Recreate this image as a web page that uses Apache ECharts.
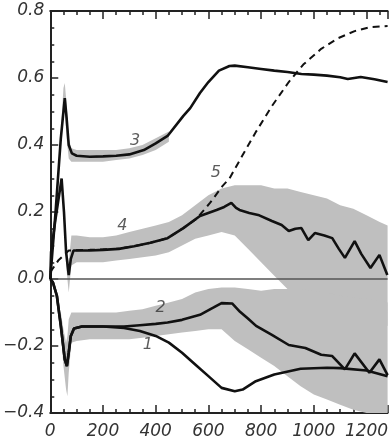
<!DOCTYPE html>
<html>
<head>
<meta charset="utf-8">
<script src="https://cdn.jsdelivr.net/npm/echarts@6/dist/echarts.min.js"></script>
<style>html,body{margin:0;padding:0;background:#fff}#c{width:391px;height:440px}</style>
</head>
<body>
<div id="c"></div>
<script>
// ---- Curve data (x, value) ----
const c1x = [0,10,25,40,55,63,70,78,90,120,200,280,340,400,450,500,550,600,650,700,730,780,850,950,1050,1100,1200,1280];
const c1y = [0,-0.01,-0.05,-0.14,-0.24,-0.26,-0.22,-0.17,-0.148,-0.142,-0.142,-0.146,-0.155,-0.17,-0.19,-0.22,-0.255,-0.29,-0.325,-0.335,-0.33,-0.305,-0.285,-0.268,-0.265,-0.266,-0.273,-0.29];

const c2x = [0,10,25,40,55,63,70,78,90,120,200,280,340,400,445,500,568,620,650,690,720,750,781,841,905,968,1028,1070,1118,1155,1211,1249,1280];
const c2y = [0,-0.01,-0.05,-0.14,-0.24,-0.26,-0.22,-0.17,-0.148,-0.142,-0.142,-0.142,-0.138,-0.134,-0.13,-0.122,-0.107,-0.085,-0.072,-0.073,-0.098,-0.118,-0.14,-0.167,-0.197,-0.206,-0.226,-0.23,-0.27,-0.222,-0.28,-0.24,-0.287];

const c3x = [0,20,40,55,62,70,82,100,150,200,250,300,355,400,445,505,531,568,600,640,680,700,750,800,850,900,953,1000,1050,1100,1129,1178,1230,1280];
const c3y = [0,0.2,0.42,0.54,0.48,0.4,0.375,0.368,0.365,0.366,0.368,0.372,0.385,0.405,0.427,0.487,0.51,0.555,0.588,0.622,0.636,0.637,0.632,0.627,0.622,0.618,0.612,0.61,0.607,0.602,0.597,0.603,0.596,0.588];

const c4x = [0,3,20,43,52,60,70,78,88,150,200,260,318,380,445,505,568,631,660,687,705,718,755,793,841,878,905,930,953,979,1004,1040,1070,1095,1118,1155,1180,1215,1249,1279];
const c4y = [0,0.08,0.18,0.30,0.2,0.08,0.012,0.06,0.085,0.085,0.087,0.09,0.098,0.108,0.122,0.152,0.188,0.206,0.215,0.227,0.212,0.206,0.197,0.19,0.173,0.161,0.143,0.15,0.152,0.116,0.137,0.13,0.122,0.09,0.063,0.113,0.075,0.033,0.072,0.012];

const c5x = [0,30,70,150,250,318,380,445,505,555,606,654,680,730,781,840,905,960,1028,1090,1155,1215,1280];
const c5y = [0.02,0.055,0.085,0.087,0.09,0.098,0.108,0.122,0.152,0.18,0.227,0.278,0.30,0.37,0.44,0.515,0.588,0.64,0.687,0.718,0.74,0.752,0.755];

// ---- Gray noise envelopes (upper / lower) ----
const n3x  = [0,40,50,55,62,70,80,100,150,200,250,300,350,400,450];
const n3hi = [0,0.44,0.57,0.585,0.52,0.42,0.39,0.385,0.385,0.385,0.385,0.39,0.4,0.42,0.44];
const n3lo = [0,0.4,0.5,0.5,0.42,0.36,0.35,0.35,0.35,0.35,0.355,0.36,0.37,0.385,0.41];

const n4x  = [60,70,80,100,150,200,250,300,350,400,450,500,550,600,650,700,750,800,850,900,950,1000,1050,1100,1150,1200,1250,1280];
const n4hi = [0.1,0.05,0.13,0.13,0.125,0.125,0.13,0.14,0.15,0.16,0.17,0.19,0.22,0.25,0.27,0.28,0.28,0.28,0.27,0.27,0.26,0.25,0.24,0.22,0.21,0.19,0.17,0.16];
const n4lo = [0.04,-0.04,0.04,0.05,0.05,0.05,0.055,0.06,0.065,0.07,0.08,0.1,0.12,0.13,0.14,0.13,0.09,0.05,0.01,-0.03,-0.05,-0.07,-0.08,-0.09,-0.1,-0.12,-0.13,-0.14];

const n2x  = [40,50,60,65,70,80,100,150,200,250,300,350,400,450,500,550,600,650,700,750,800,850,900,950,1000,1050,1100,1150,1200,1250,1280];
const n2hi = [-0.1,-0.15,-0.19,-0.17,-0.12,-0.1,-0.1,-0.1,-0.1,-0.1,-0.095,-0.09,-0.08,-0.07,-0.06,-0.04,-0.03,-0.025,-0.025,-0.03,-0.035,-0.03,-0.03,-0.03,-0.035,-0.04,-0.05,-0.055,-0.06,-0.065,-0.07];
const n2lo = [-0.16,-0.26,-0.33,-0.35,-0.28,-0.19,-0.185,-0.18,-0.18,-0.18,-0.18,-0.175,-0.17,-0.165,-0.16,-0.155,-0.15,-0.15,-0.185,-0.21,-0.235,-0.26,-0.29,-0.32,-0.345,-0.36,-0.375,-0.39,-0.4,-0.4,-0.4];

// ---- Curve number labels ----
const curveLabels = [
  {name:'1', x:370, y:-0.197},
  {name:'2', x:419, y:-0.087},
  {name:'3', x:322, y:0.412},
  {name:'4', x:273, y:0.158},
  {name:'5', x:628, y:0.316}
];

const xMin = 0, xMax = 1280, xStep = 200;
const yMin = -0.4, yMax = 0.8, yStep = 0.2;

const pairs = (xs, ys) => xs.map((x, i) => [x, ys[i]]);
const FONT = 'DejaVu Sans';
const AX = '#222';
const NOISE = '#bfbfbf';

function band(xs, hi, lo) {
  return {
    type: 'custom', silent: true, z: 1,
    data: [[xs[0], hi[0]]],
    renderItem: function (params, api) {
      const pts = [];
      for (let i = 0; i < xs.length; i++) pts.push(api.coord([xs[i], hi[i]]));
      for (let i = xs.length - 1; i >= 0; i--) pts.push(api.coord([xs[i], lo[i]]));
      return { type: 'polygon', shape: { points: pts }, style: { fill: NOISE } };
    }
  };
}

function curve(xs, ys, dashed) {
  return {
    type: 'line', data: pairs(xs, ys), showSymbol: false, symbol: 'none',
    z: 3, silent: true,
    lineStyle: { color: '#111', width: dashed ? 2 : 2.6, type: dashed ? [7, 5] : 'solid' }
  };
}

function buildOption() {
  const tickStyle = { show: true, inside: true, length: 8, lineStyle: { color: AX, width: 1.5 } };
  const minorStyle = { show: true, splitNumber: 4, length: 4, lineStyle: { color: AX, width: 1.5 } };
  const lab = { fontFamily: FONT, fontStyle: 'italic', fontSize: 17, color: '#333' };
  const c1 = curve(c1x, c1y, false);
  c1.markLine = { silent: true, symbol: 'none', z: 2, label: { show: false },
    lineStyle: { color: '#555', width: 1.5, type: 'solid' }, data: [{ yAxis: 0 }] };
  return {
    animation: false, backgroundColor: '#fff',
    grid: { left: 48, right: 0, top: 11, bottom: 25, containLabel: false, show: false },
    xAxis: [
      { type: 'value', min: xMin, max: xMax, interval: xStep, position: 'bottom', show: true, splitLine: { show: false },
        axisLine: { show: true, onZero: false, lineStyle: { color: AX, width: 2 } }, axisTick: tickStyle, minorTick: minorStyle,
        axisLabel: Object.assign({ show: true, margin: 10, showMaxLabel: false, formatter: v => String(Math.round(v)) }, lab) },
      { type: 'value', min: xMin, max: xMax, interval: xStep, position: 'top', show: true, splitLine: { show: false },
        axisLine: { show: true, onZero: false, lineStyle: { color: AX, width: 2 } }, axisTick: tickStyle, minorTick: minorStyle,
        axisLabel: { show: false } }
    ],
    yAxis: { type: 'value', min: yMin, max: yMax, interval: yStep, show: true, splitLine: { show: false },
      axisLine: { show: true, onZero: false, lineStyle: { color: AX, width: 2 } }, axisTick: tickStyle, minorTick: minorStyle,
      axisLabel: Object.assign({ margin: 6, formatter: v => (v < 0 ? '\u2212' : '') + Math.abs(v).toFixed(1) }, lab) },
    series: [
      band(n3x, n3hi, n3lo),
      band(n4x, n4hi, n4lo),
      band(n2x, n2hi, n2lo),
      curve(c5x, c5y, true),
      c1,
      curve(c2x, c2y, false),
      curve(c3x, c3y, false),
      curve(c4x, c4y, false),
      { type: 'scatter', symbolSize: 0, silent: true, z: 4, xAxisIndex: 1,
        data: curveLabels.map(l => ({ name: l.name, value: [l.x, l.y] })),
        label: { show: true, position: 'inside', formatter: p => p.name, fontFamily: FONT, fontStyle: 'italic', fontSize: 16, color: '#333' } }
    ]
  };
}

const chart = echarts.init(document.getElementById('c'), null, { renderer: 'canvas' });
chart.setOption(buildOption());
// safety: if axis ticks were not produced, redraw once
setTimeout(() => {
  const lines = chart.getZr().storage.getDisplayList(true).filter(el => el.type === 'line').length;
  if (lines < 60) { chart.clear(); chart.setOption(buildOption(), true); }
}, 0);
</script>
</body>
</html>
